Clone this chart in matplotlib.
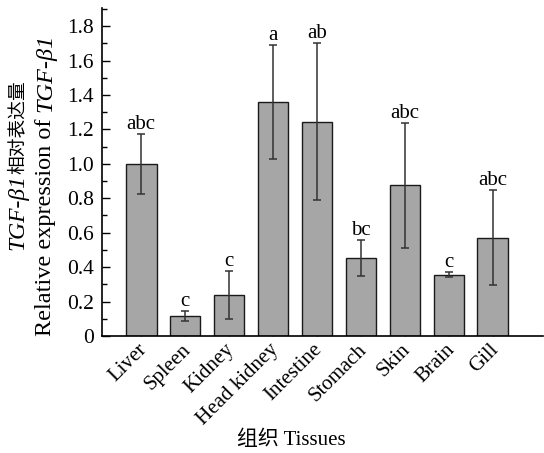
import matplotlib
matplotlib.use("Agg")
import matplotlib.pyplot as plt
import matplotlib.transforms as mtransforms
from matplotlib.ticker import MultipleLocator, FuncFormatter

tissues = ["Liver", "Spleen", "Kidney", "Head kidney", "Intestine",
           "Stomach", "Skin", "Brain", "Gill"]
means = [1.00, 0.117, 0.24, 1.36, 1.245, 0.453, 0.877, 0.355, 0.57]
err_hi = [1.173, 0.145, 0.378, 1.69, 1.70, 0.555, 1.237, 0.37, 0.848]
err_lo = [0.825, 0.09, 0.10, 1.03, 0.79, 0.35, 0.51, 0.34, 0.295]
letters = ["abc", "c", "c", "a", "ab", "bc", "abc", "c", "abc"]

plt.rcParams["font.family"] = ["Liberation Serif", "Noto Sans CJK SC"]
plt.rcParams["font.size"] = 15

fig = plt.figure(figsize=(5.44, 4.53), dpi=100)
ax = fig.add_axes([102/544, 1 - 336/453, 441/544, 328/453])

x = list(range(len(tissues)))
yerr = [[m - l for m, l in zip(means, err_lo)], [h - m for m, h in zip(means, err_hi)]]
ax.bar(x, means, width=0.7, color="#a6a6a6", edgecolor="#1a1a1a", linewidth=1.0, zorder=2)
ax.errorbar(x, means, yerr=yerr, fmt="none", ecolor="#333333", elinewidth=1.1,
            capsize=2.8, capthick=1.1, zorder=3)
for xi, top, lab in zip(x, err_hi, letters):
    ax.text(xi, top, lab, ha="center", va="bottom", fontsize=15)

ax.set_xlim(-0.89, 9.14)
ax.set_ylim(0, 1.905)
ax.yaxis.set_major_locator(MultipleLocator(0.2))
ax.yaxis.set_minor_locator(MultipleLocator(0.1))
ax.yaxis.set_major_formatter(FuncFormatter(lambda v, p: "0" if abs(v) < 1e-9 else "%.1f" % v))
ax.tick_params(axis="y", which="major", direction="in", length=6, width=1, labelsize=15.5, pad=6)
ax.tick_params(axis="y", which="minor", direction="in", length=3.5, width=1)
ax.set_xticks(x)
ax.tick_params(axis="x", direction="in", length=4, width=1, labelsize=15, pad=3)
offset = mtransforms.ScaledTranslation(-4/100, 0, fig.dpi_scale_trans)
labels = ax.set_xticklabels(tissues, rotation=45, ha="right", rotation_mode="anchor")
for lab in labels:
    lab.set_transform(lab.get_transform() + offset)

for side in ["top", "right"]:
    ax.spines[side].set_visible(False)
for side in ["left", "bottom"]:
    ax.spines[side].set_linewidth(1.2)

# y label, two lines, TGF-beta1 in italic
t1 = fig.text(18/544, 1 - 250/453, "TGF-β1", rotation=90, style="italic",
              ha="center", va="bottom", fontsize=17)
ax.annotate("相对表达量", xy=(0.5, 1), xycoords=t1, rotation=90,
            ha="center", va="bottom", fontsize=13.5)
t2 = fig.text(46/544, 1 - 336/453, "Relative expression of ", rotation=90,
              ha="center", va="bottom", fontsize=17.5)
ax.annotate("TGF-β1", xy=(0.5, 1), xycoords=t2, rotation=90, style="italic",
            ha="center", va="bottom", fontsize=17.5)

fig.text(291/544, 1 - 440/453, "组织 Tissues", ha="center", va="center", fontsize=15)

fig.savefig("out.png", dpi=100)
